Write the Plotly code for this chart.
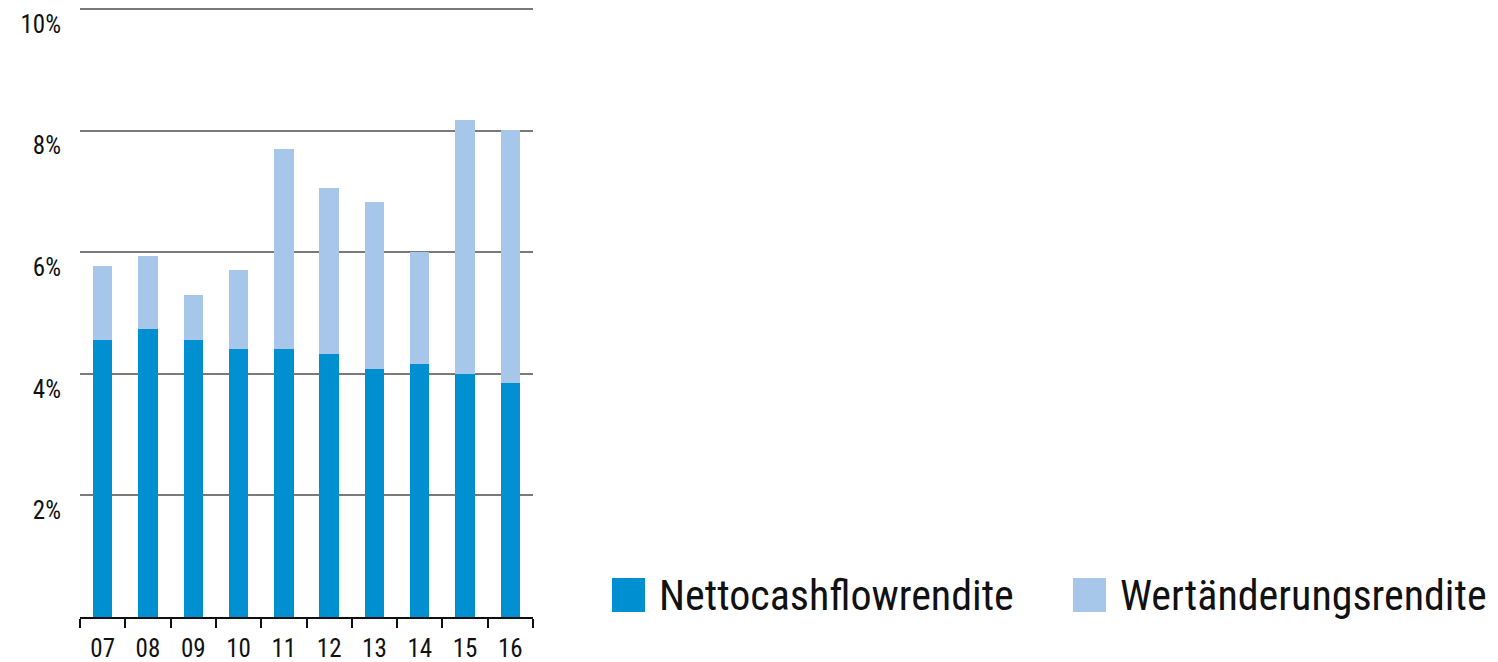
import plotly.graph_objects as go

years = ["07", "08", "09", "10", "11", "12", "13", "14", "15", "16"]
netto = [4.56, 4.73, 4.56, 4.41, 4.41, 4.33, 4.08, 4.16, 4.00, 3.85]
wert = [1.21, 1.20, 0.73, 1.29, 3.29, 2.73, 2.74, 1.84, 4.18, 4.16]
series_names = ["Nettocashflowrendite", "Wertänderungsrendite"]
y_ticks = [2, 4, 6, 8, 10]
y_ticktext = ["2%", "4%", "6%", "8%", "10%"]

DARK = "#008FD0"
LIGHT = "#A6C6EA"
FONT = "Liberation Sans Narrow, Arial Narrow, Roboto Condensed, Liberation Sans, sans-serif"

W, H = 1498, 662
Y_TOP = 10.05
ML, MR, MB = 80, W - 533, H - 617
MT = 9 - round((Y_TOP - 10) * 60.8)

fig = go.Figure()
fig.add_trace(go.Bar(x=years, y=netto, name=series_names[0], marker=dict(color=DARK, line=dict(width=0))))
fig.add_trace(go.Bar(x=years, y=wert, name=series_names[1], marker=dict(color=LIGHT, line=dict(width=0))))

fig.update_layout(
    width=W, height=H,
    barmode="stack", bargap=0.57,
    margin=dict(l=ML, r=MR, t=MT, b=MB, autoexpand=False),
    paper_bgcolor="white", plot_bgcolor="white",
    showlegend=False,
    font=dict(family=FONT, color="#111111"),
)
fig.update_yaxes(
    range=[0, Y_TOP], tickvals=y_ticks, ticktext=y_ticktext,
    showgrid=True, gridcolor="#7a7a7a", gridwidth=1.5,
    zeroline=False, showline=False, ticks="",
    tickfont=dict(size=25, family=FONT, color="#111111"),
    ticklabelshift=15, ticklabelstandoff=18, automargin=False,
)
fig.update_xaxes(
    showline=True, linecolor="#111111", linewidth=2,
    ticks="outside", tickson="boundaries", ticklen=9, tickwidth=2, tickcolor="#111111",
    tickfont=dict(size=25, family=FONT, color="#111111"),
    ticklabelstandoff=8, automargin=False,
    showgrid=False,
)

# manual legend (large swatches)
pw, ph = W - ML - MR, H - MT - MB
def px_x(v):
    return (v - ML) / pw
def px_y(v):
    return (H - MB - v) / ph

legend_items = [(series_names[0], DARK, 612, 657), (series_names[1], LIGHT, 1073, 1118)]
for name, col, sx, tx in legend_items:
    fig.add_shape(type="rect", xref="paper", yref="paper",
                  x0=px_x(sx), x1=px_x(sx + 33), y0=px_y(612), y1=px_y(578),
                  fillcolor=col, line=dict(width=0))
    fig.add_annotation(xref="paper", yref="paper", x=px_x(tx), y=px_y(595),
                       text=name, showarrow=False, xanchor="left", yanchor="middle",
                       font=dict(size=42, family=FONT, color="#111111"))

fig.write_html("out.html")
